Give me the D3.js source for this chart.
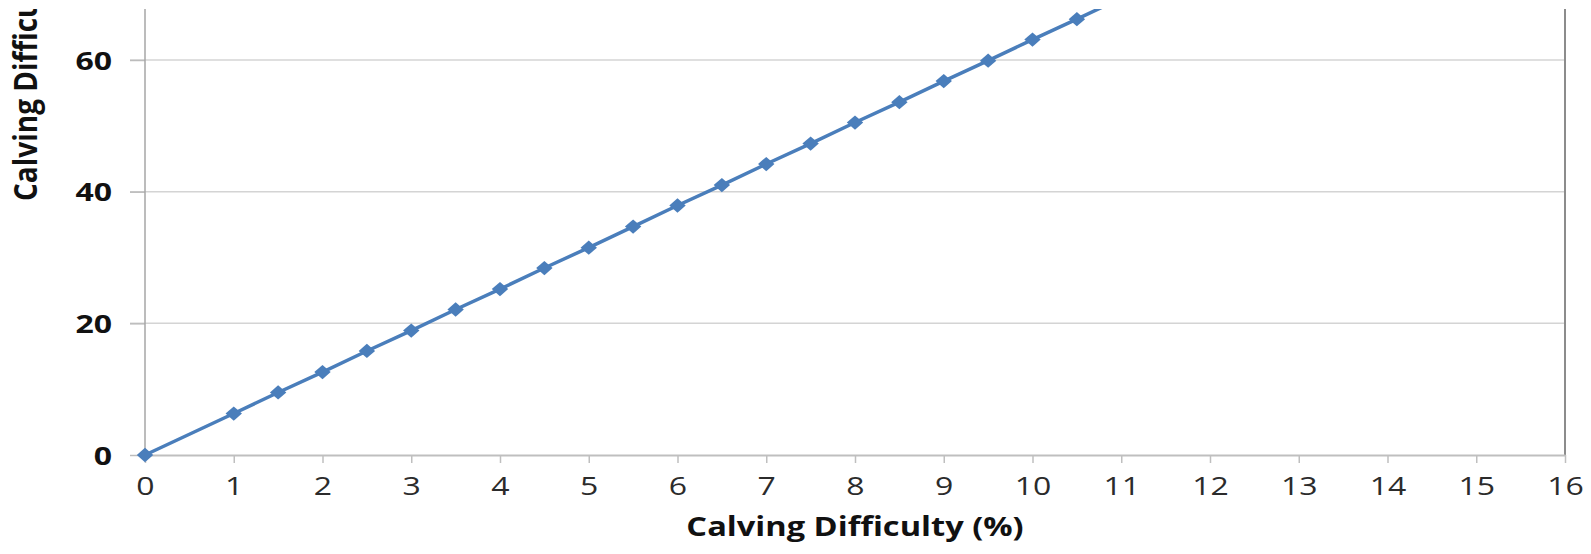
<!DOCTYPE html>
<html>
<head>
<meta charset="utf-8">
<script src="https://cdn.jsdelivr.net/npm/d3@7"></script>
<style>
  html, body { margin: 0; padding: 0; background: #fff; overflow: hidden; }
  svg { display: block; }
</style>
</head>
<body>
<script>
// Calving difficulty (%) against its transformed score
const xValues = [0, 1, 1.5, 2, 2.5, 3, 3.5, 4, 4.5, 5, 5.5, 6, 6.5, 7, 7.5, 8, 8.5, 9, 9.5, 10, 10.5, 11];
const yValues = [0, 6.3, 9.5, 12.6, 15.8, 18.9, 22.1, 25.2, 28.4, 31.5, 34.7, 37.9, 41.0, 44.2, 47.3, 50.5, 53.6, 56.8, 59.9, 63.1, 66.2, 69.4];
const xTicks = [0, 1, 2, 3, 4, 5, 6, 7, 8, 9, 10, 11, 12, 13, 14, 15, 16];
const yTicks = [0, 20, 40, 60];
const xTitle = "Calving Difficulty (%)";
const yTitle = "Calving Difficulty Score";

const W = 1591, H = 554;
const plotLeft = 145, plotRight = 1565, plotBottom = 455, plotTop = 9;
const stretch = 1.28;   // text is drawn horizontally widened

const svg = d3.select("body").append("svg").attr("width", W).attr("height", H);

const x = d3.scaleLinear().domain([0, 16]).range([plotLeft, plotRight]);
const y = d3.scaleLinear().domain([0, 60]).range([plotBottom, 60]);

const font = "'Open Sans', 'Liberation Sans', sans-serif";

// horizontal gridlines (with short outer ticks on the left)
svg.append("g").selectAll("line").data(yTicks.filter(d => d > 0)).join("line")
  .attr("x1", plotLeft - 15).attr("x2", plotRight)
  .attr("y1", d => y(d)).attr("y2", d => y(d))
  .attr("stroke", "#d4d4d4").attr("stroke-width", 1.5);

// right border of plot area
svg.append("line")
  .attr("x1", plotRight).attr("x2", plotRight)
  .attr("y1", plotTop).attr("y2", plotBottom)
  .attr("stroke", "#8c8c8c").attr("stroke-width", 2);

// y axis
const ySpacing = 33;
const yAxis = svg.append("g").attr("transform", `translate(${plotLeft},0)`)
  .call(d3.axisLeft(y).tickValues(yTicks).tickSize(15).tickSizeOuter(0).tickPadding(ySpacing - 15));
yAxis.select(".domain").remove();
yAxis.append("line").attr("x1", 0).attr("x2", 0)
  .attr("y1", plotTop).attr("y2", plotBottom)
  .attr("stroke", "#a6a6a6").attr("stroke-width", 1.5);
yAxis.selectAll(".tick line").attr("stroke", "#bcbcbc").attr("stroke-width", 1.5);
yAxis.selectAll(".tick text")
  .attr("x", -ySpacing / stretch)
  .attr("transform", `scale(${stretch},1)`)
  .attr("font-family", font).attr("font-weight", "bold").attr("font-size", 25)
  .attr("fill", "#111").attr("dy", "0.36em");

// x axis
const xAxis = svg.append("g").attr("transform", `translate(0,${plotBottom})`)
  .call(d3.axisBottom(x).tickValues(xTicks).tickSize(8).tickSizeOuter(0).tickPadding(14));
xAxis.select(".domain").attr("stroke", "#bfbfbf").attr("stroke-width", 2);
xAxis.selectAll(".tick line").attr("stroke", "#bfbfbf").attr("stroke-width", 1.5);
xAxis.selectAll(".tick text")
  .attr("transform", `scale(${stretch},1)`)
  .attr("font-family", font).attr("font-size", 25).attr("fill", "#2b2b2b");

// data line and markers, clipped to the plot area
svg.append("clipPath").attr("id", "plot-clip").append("rect")
  .attr("x", 0).attr("y", plotTop).attr("width", W).attr("height", plotBottom - plotTop + 20);

const pts = xValues.map((v, i) => [v, yValues[i]]);
const g = svg.append("g").attr("clip-path", "url(#plot-clip)");

g.append("path").datum(pts)
  .attr("d", d3.line().x(d => x(d[0])).y(d => y(d[1])))
  .attr("fill", "none").attr("stroke", "#4a7ebb").attr("stroke-width", 3.5);

g.selectAll("path.mk").data(pts).join("path").attr("class", "mk")
  .attr("transform", d => `translate(${x(d[0])},${y(d[1])}) scale(1.15,1)`)
  .attr("d", d3.symbol().type(d3.symbolDiamond2).size(130))
  .attr("fill", "#4a7ebb");

// axis titles
svg.append("text")
  .attr("transform", `translate(${(plotLeft + plotRight) / 2},536) scale(${stretch * 0.98},1)`)
  .attr("text-anchor", "middle")
  .attr("font-family", font).attr("font-weight", "bold").attr("font-size", 26)
  .attr("fill", "#111").text(xTitle);

svg.append("text")
  .attr("transform", `translate(37,201) scale(1.17,1) rotate(-90)`)
  .attr("text-anchor", "start")
  .attr("font-family", font).attr("font-weight", "bold").attr("font-size", 28)
  .attr("fill", "#111").text(yTitle);

// white band above the plot area
svg.append("rect").attr("x", 0).attr("y", 0).attr("width", W).attr("height", plotTop)
  .attr("fill", "#fff");
</script>
</body>
</html>
